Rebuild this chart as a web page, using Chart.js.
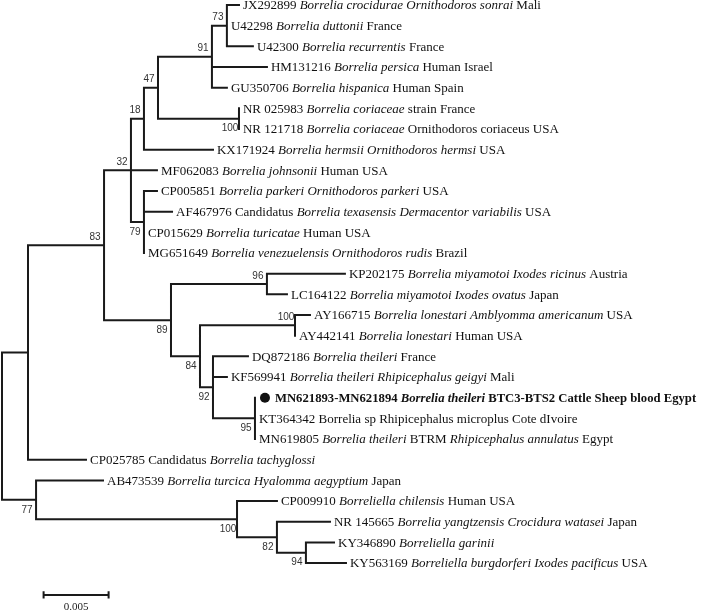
<!DOCTYPE html>
<html>
<head>
<meta charset="utf-8">
<script src="https://cdn.jsdelivr.net/npm/chart.js@4.4.0/dist/chart.umd.min.js"></script>
<style>
  html, body { margin: 0; padding: 0; background: #fff; }
  #wrap { width: 705px; height: 611px; }
</style>
</head>
<body>
<div id="wrap"><canvas id="tree"></canvas></div>
<script>
// leaves from top to bottom, *...* = italic
const leafIds = [
    'JX292899', 'U42298', 'U42300', 'HM131216', 'GU350706', 'NR 025983', 'NR 121718',
    'KX171924', 'MF062083', 'CP005851', 'AF467976', 'CP015629', 'MG651649', 'KP202175',
    'LC164122', 'AY166715', 'AY442141', 'DQ872186', 'KF569941', 'MN621893-MN621894',
    'KT364342', 'MN619805', 'CP025785', 'AB473539', 'CP009910', 'NR 145665', 'KY346890',
    'KY563169'
]
const leafLabels = [
    'JX292899 *Borrelia crocidurae Ornithodoros sonrai* Mali',
    'U42298 *Borrelia duttonii* France',
    'U42300 *Borrelia recurrentis* France',
    'HM131216 *Borrelia persica* Human Israel',
    'GU350706 *Borrelia hispanica* Human Spain',
    'NR 025983 *Borrelia coriaceae* strain France',
    'NR 121718 *Borrelia coriaceae* Ornithodoros coriaceus USA',
    'KX171924 *Borrelia hermsii Ornithodoros hermsi* USA',
    'MF062083 *Borrelia johnsonii* Human USA',
    'CP005851 *Borrelia parkeri Ornithodoros parkeri* USA',
    'AF467976 Candidatus *Borrelia texasensis Dermacentor variabilis* USA',
    'CP015629 *Borrelia turicatae* Human USA',
    'MG651649 *Borrelia venezuelensis Ornithodoros rudis* Brazil',
    'KP202175 *Borrelia miyamotoi Ixodes ricinus* Austria',
    'LC164122 *Borrelia miyamotoi Ixodes ovatus* Japan',
    'AY166715 *Borrelia lonestari Amblyomma americanum* USA',
    'AY442141 *Borrelia lonestari* Human USA',
    'DQ872186 *Borrelia theileri* France',
    'KF569941 *Borrelia theileri Rhipicephalus geigyi* Mali',
    'MN621893-MN621894 *Borrelia theileri* BTC3-BTS2 Cattle Sheep blood Egypt',
    'KT364342 Borrelia sp Rhipicephalus microplus Cote dIvoire',
    'MN619805 *Borrelia theileri* BTRM *Rhipicephalus annulatus* Egypt',
    'CP025785 Candidatus *Borrelia tachyglossi*',
    'AB473539 *Borrelia turcica Hyalomma aegyptium* Japan',
    'CP009910 *Borreliella chilensis* Human USA',
    'NR 145665 *Borrelia yangtzensis Crocidura watasei* Japan',
    'KY346890 *Borreliella garinii*',
    'KY563169 *Borreliella burgdorferi Ixodes pacificus* USA'
]
// distance from root (substitutions/site)
const leafDepth = [
    0.01823, 0.0173, 0.0193, 0.02038, 0.0173, 0.01823, 0.01823,
    0.01623, 0.01192, 0.01192, 0.01308, 0.01092, 0.01092, 0.02638,
    0.02192, 0.02369, 0.02254, 0.01892, 0.0173, 0.01946,
    0.01946, 0.01946, 0.00646, 0.00777, 0.02115, 0.02523, 0.02554,
    0.02646
]
const markedLeaf = 'MN621893-MN621894'

// internal nodes
const nodeNames = ['root', 'n1', 'n83', 'n32', 'n18', 'n47', 'n91', 'n73', 'n100a', 'n79',
    'n89', 'n96', 'n84', 'n100b', 'n92', 'n95', 'n77', 'n100c', 'n82', 'n94']
const nodeDepth = [0, 0.0020, 0.00785, 0.00992, 0.01092, 0.0120, 0.01615, 0.0173, 0.01823, 0.01092,
    0.0130, 0.02038, 0.01523, 0.02254, 0.01623, 0.01946, 0.00262, 0.01808, 0.02115, 0.02338]
const nodeSupport = [null, null, 83, 32, 18, 47, 91, 73, 100, 79,
    89, 96, 84, 100, 92, 95, 77, 100, 82, 94]
const nodeChildren = [
    ['n1', 'n77'],
    ['n83', 'CP025785'],
    ['n32', 'n89'],
    ['n18', 'MF062083', 'n79'],
    ['n47', 'KX171924'],
    ['n91', 'n100a'],
    ['n73', 'HM131216', 'GU350706'],
    ['JX292899', 'U42298', 'U42300'],
    ['NR 025983', 'NR 121718'],
    ['CP005851', 'AF467976', 'CP015629', 'MG651649'],
    ['n96', 'n84'],
    ['KP202175', 'LC164122'],
    ['n100b', 'n92'],
    ['AY166715', 'AY442141'],
    ['DQ872186', 'KF569941', 'n95'],
    ['MN621893-MN621894', 'KT364342', 'MN619805'],
    ['AB473539', 'n100c'],
    ['CP009910', 'n82'],
    ['NR 145665', 'n94'],
    ['KY346890', 'KY563169']
]

const scaleBarStart = 0.0032
const scaleBarLength = 0.005
const scaleBarLabel = '0.005'

// positions: x = depth, y = leaf row
const pos = {}
leafIds.forEach((id, i) => {
    pos[id] = { x: leafDepth[i], y: i }
})
function place(name) {
    if (pos[name]) return pos[name]
    const k = nodeNames.indexOf(name)
    const kids = nodeChildren[k].map(place)
    pos[name] = { x: nodeDepth[k], y: (kids[0].y + kids[kids.length - 1].y) / 2 }
    return pos[name]
}
place('root')

// label goes above the node when it is the first child, below otherwise
const labelAbove = {}
nodeChildren.forEach((kids) => {
    kids.forEach((c, j) => { labelAbove[c] = j === 0 })
})

// rectangular branches, null breaks the line
const branchPoints = []
nodeNames.forEach((name, k) => {
    const p = pos[name]
    const kids = nodeChildren[k].map((c) => pos[c])
    const first = kids[0]
    const last = kids[kids.length - 1]
    branchPoints.push(
        { x: first.x, y: first.y },
        { x: p.x, y: first.y },
        { x: p.x, y: last.y },
        { x: last.x, y: last.y },
        { x: p.x, y: null }
    )
    kids.slice(1, -1).forEach((c) => {
        branchPoints.push({ x: p.x, y: c.y }, { x: c.x, y: c.y }, { x: p.x, y: null })
    })
})

const barRow = 28.54
const barEnd = scaleBarStart + scaleBarLength
const scaleBarPoints = [
    { x: scaleBarStart, y: barRow }, { x: barEnd, y: barRow }, { x: barEnd, y: null },
    { x: scaleBarStart, y: barRow - 0.17 }, { x: scaleBarStart, y: barRow + 0.17 }, { x: scaleBarStart, y: null },
    { x: barEnd, y: barRow - 0.17 }, { x: barEnd, y: barRow + 0.17 }
]

const treeText = {
    id: 'treeText',
    afterDatasetsDraw(chart) {
        const { ctx, scales: { x, y } } = chart
        ctx.save()
        ctx.textBaseline = 'middle'
        ctx.fillStyle = '#111'

        leafIds.forEach((id, i) => {
            let px = x.getPixelForValue(leafDepth[i]) + 4
            const py = y.getPixelForValue(i) + 1
            const bold = id === markedLeaf
            if (bold) {
                ctx.beginPath()
                ctx.arc(px + 6, py - 1, 5, 0, Math.PI * 2)
                ctx.fill()
                px += 16
            }
            leafLabels[i].split('*').forEach((part, j) => {
                ctx.font = (j % 2 ? 'italic ' : '') + (bold ? 'bold 12.7px' : '13px') + ' "Liberation Serif"'
                ctx.fillText(part, px, py)
                px += ctx.measureText(part).width
            })
        })

        // bootstrap values
        ctx.fillStyle = '#333'
        ctx.font = '10px "Liberation Sans"'
        ctx.textAlign = 'center'
        nodeNames.forEach((name, k) => {
            if (nodeSupport[k] === null) return
            const p = pos[name]
            const px = x.getPixelForValue(p.x) - 9
            const py = y.getPixelForValue(p.y) + (labelAbove[name] ? -8 : 10)
            ctx.fillText(String(nodeSupport[k]), px, py)
        })

        ctx.fillStyle = '#222'
        ctx.font = '11px "Liberation Serif"'
        ctx.fillText(scaleBarLabel, x.getPixelForValue(scaleBarStart + scaleBarLength / 2), y.getPixelForValue(29.13))
        ctx.restore()
    }
}

new Chart(document.getElementById('tree'), {
    type: 'scatter',
    data: {
        datasets: [
            {
                data: branchPoints,
                showLine: true,
                spanGaps: false,
                borderColor: '#1a1a1a',
                borderWidth: 2,
                borderJoinStyle: 'miter',
                borderCapStyle: 'square',
                pointRadius: 0,
                tension: 0
            },
            {
                data: scaleBarPoints,
                showLine: true,
                spanGaps: false,
                borderColor: '#1a1a1a',
                borderWidth: 2,
                pointRadius: 0,
                tension: 0
            }
        ]
    },
    options: {
        responsive: true,
        maintainAspectRatio: false,
        animation: false,
        layout: { padding: 0 },
        plugins: {
            legend: { display: false },
            tooltip: { enabled: false }
        },
        scales: {
            x: { type: 'linear', display: false, min: -0.000154, max: 0.05408 },
            y: { type: 'linear', display: false, reverse: true, min: -0.242, max: 29.32 }
        }
    },
    plugins: [treeText]
})
</script>
</body>
</html>
